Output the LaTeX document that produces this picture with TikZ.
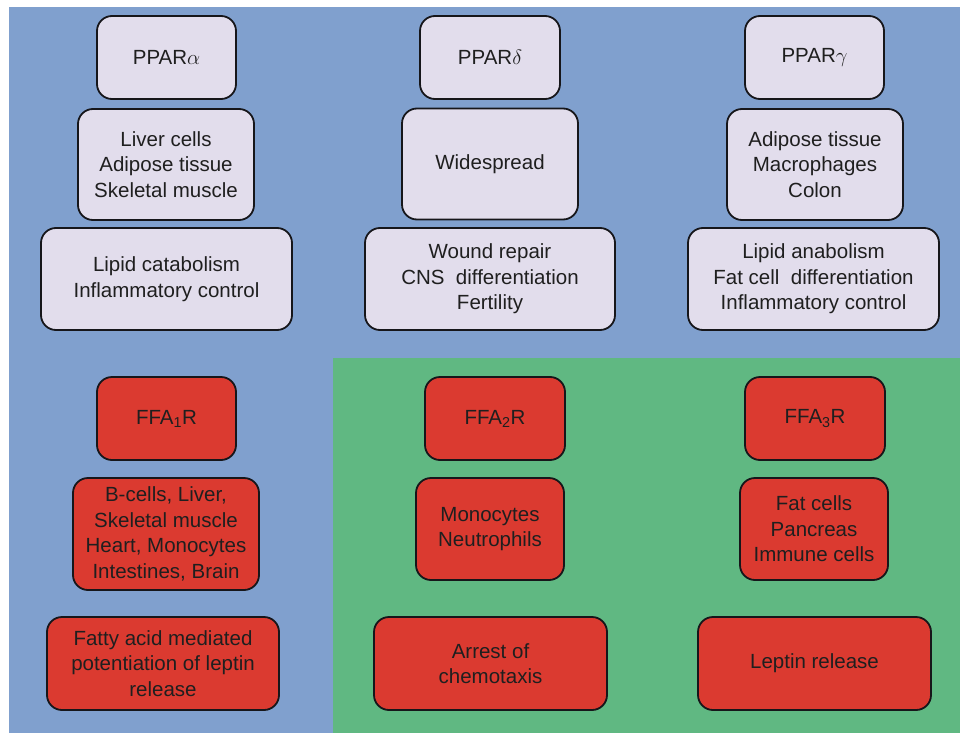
\documentclass[tikz,border=0pt]{standalone}
\usepackage{fontspec}
\setmainfont{Liberation Sans}
\definecolor{panelblue}{RGB}{128,160,206}
\definecolor{panelgreen}{RGB}{96,184,130}
\definecolor{boxlilac}{RGB}{226,221,236}
\definecolor{boxred}{RGB}{219,58,48}
\definecolor{edge}{RGB}{22,22,26}
\tikzset{
  card/.style={draw=edge, line width=1.8pt, rounded corners=15pt, align=center,
    inner sep=0pt, font=\fontsize{20.5}{25.5}\selectfont, text=black!88},
  ppar/.style={card, fill=boxlilac},
  ffar/.style={card, fill=boxred},
}
\begin{document}
\begin{tikzpicture}[x=1pt,y=-1pt]
\useasboundingbox (0,0) rectangle (960,733);
% panels
\fill[white] (0,0) rectangle (960,733);
\fill[panelblue] (9,7) rectangle (960,733);
\fill[panelgreen] (333,358) rectangle (960,733);

% PPAR receptors
\node[ppar, minimum width=139pt, minimum height=83pt] (pa) at (166.5,57.5) {PPAR$\alpha$};
\node[ppar, minimum width=140pt, minimum height=83pt] (pd) at (490,57.5) {PPAR$\delta$};
\node[ppar, minimum width=139pt, minimum height=83pt] (pg) at (814.5,57.5) {PPAR$\gamma$};

\node[ppar, minimum width=176pt, minimum height=111pt] (pat) at (166,164.5) {Liver cells\\Adipose tissue\\Skeletal muscle};
\node[ppar, minimum width=176pt, minimum height=111pt] (pdt) at (490,164) {Widespread};
\node[ppar, minimum width=176pt, minimum height=111pt] (pgt) at (815,164.5) {Adipose tissue\\Macrophages\\Colon};

\node[ppar, minimum width=251pt, minimum height=102pt] (paf) at (166.5,279) {Lipid catabolism\\Inflammatory control};
\node[ppar, minimum width=250pt, minimum height=102pt] (pdf) at (490,279) {Wound repair\\CNS\ \ differentiation\\Fertility};
\node[ppar, minimum width=251pt, minimum height=102pt] (pgf) at (813.5,279) {Lipid anabolism\\Fat cell\ \ differentiation\\Inflammatory control};

% FFA receptors
\node[ffar, minimum width=139pt, minimum height=83pt] (f1) at (166.5,418.5) {FFA\textsubscript{1}R};
\node[ffar, minimum width=140pt, minimum height=83pt] (f2) at (495,418.5) {FFA\textsubscript{2}R};
\node[ffar, minimum width=140pt, minimum height=83pt] (f3) at (815,418.5) {FFA\textsubscript{3}R};

\node[ffar, minimum width=186pt, minimum height=112pt] (f1t) at (166,534) {B-cells, Liver,\\Skeletal muscle\\Heart, Monocytes\\Intestines, Brain};
\node[ffar, minimum width=148pt, minimum height=102pt] (f2t) at (490,529) {Monocytes\\Neutrophils};
\node[ffar, minimum width=148pt, minimum height=102pt] (f3t) at (814,529) {Fat cells\\Pancreas\\Immune cells};

\node[ffar, minimum width=232pt, minimum height=93pt] (f1f) at (163,663.5) {Fatty acid mediated\\potentiation of leptin\\release};
\node[ffar, minimum width=233pt, minimum height=93pt] (f2f) at (490.5,663.5) {Arrest of\\chemotaxis};
\node[ffar, minimum width=233pt, minimum height=93pt] (f3f) at (814.5,663.5) {Leptin release};
\end{tikzpicture}
\end{document}
